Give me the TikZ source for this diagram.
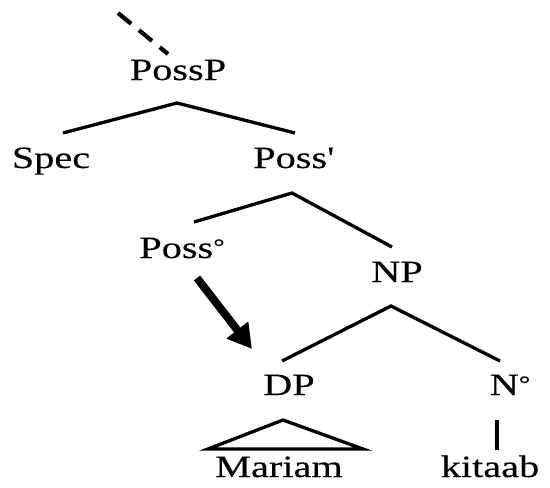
\documentclass[tikz,border=0pt]{standalone}
\usepackage{fontspec}
\setmainfont{Liberation Serif}[FakeStretch=1.3,FakeBold=0.25]
\usetikzlibrary{arrows.meta}
\newcommand{\degsign}{\raisebox{4pt}{\fontsize{22pt}{22pt}\selectfont °}}
\tikzset{
  lbl/.style={anchor=base, inner sep=0pt, font=\fontsize{31pt}{37pt}\selectfont},
  branch/.style={line width=3.3pt},
  bigarrow/.style={line width=8pt, -{Triangle[length=24pt,width=26pt]}},
  dashline/.style={line width=4.2pt, dash pattern=on 17pt off 10pt}
}
\begin{document}
\begin{tikzpicture}[x=1pt,y=1pt]
\useasboundingbox (0,0) rectangle (550,-488);
\node[lbl] (possp) at (178,-80) {PossP};
\node[lbl] (spec) at (51,-168) {Spec};
\node[lbl] (possbar) at (293,-168) {Poss\textquotesingle};
\node[lbl] (posshead) at (182,-258) {Poss\degsign};
\node[lbl] (np) at (397,-282) {NP};
\node[lbl] (dp) at (289,-395) {DP};
\node[lbl] (nhead) at (510,-395) {N\degsign};
\node[lbl] (mariam) at (279,-477) {Mariam};
\node[lbl] (kitaab) at (490,-477) {kitaab};
\coordinate (top) at (118,-13);
% dashed line
\draw[dashline] (top) -- ([shift={(-10pt,26pt)}]possp.base);
% PossP branches
\draw[branch] ([shift={(12pt,35pt)}]spec.base) -- ([shift={(-1pt,-23pt)}]possp.base) -- ([shift={(2pt,35pt)}]possbar.base);
% Poss' branches
\draw[branch] ([shift={(12pt,36pt)}]posshead.base) -- ([shift={(-1pt,-25pt)}]possbar.base) -- ([shift={(-5pt,35pt)}]np.base);
% NP branches
\draw[branch] ([shift={(-7pt,34pt)}]dp.base) -- ([shift={(-6pt,-24pt)}]np.base) -- ([shift={(-10pt,34pt)}]nhead.base);
% triangle
\draw[branch] ([shift={(-71pt,28pt)}]mariam.base) -- ([shift={(4pt,57pt)}]mariam.base) -- ([shift={(84pt,28pt)}]mariam.base) -- cycle;
% N - kitaab
\draw[branch] ([shift={(-13pt,-25pt)}]nhead.base) -- ([shift={(-13pt,-55pt)}]nhead.base);
% movement arrow
\draw[bigarrow] ([shift={(15pt,-20pt)}]posshead.base) -- ([shift={(-37pt,46pt)}]dp.base);
\end{tikzpicture}
\end{document}
